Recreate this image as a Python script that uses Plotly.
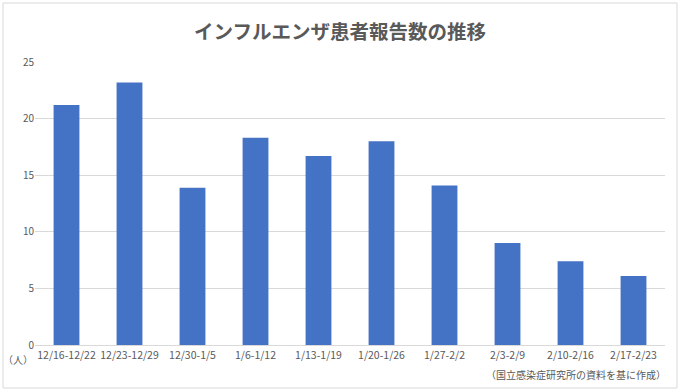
import plotly.graph_objects as go

categories = ["12/16-12/22", "12/23-12/29", "12/30-1/5", "1/6-1/12", "1/13-1/19",
              "1/20-1/26", "1/27-2/2", "2/3-2/9", "2/10-2/16", "2/17-2/23"]
values = [21.2, 23.2, 13.9, 18.3, 16.7, 18.0, 14.1, 9.0, 7.4, 6.1]
y_ticks = [0, 5, 10, 15, 20, 25]

title_text = "インフルエンザ患者報告数の推移"
unit_text = "（人）"
source_text = "（国立感染症研究所の資料を基に作成）"

W, H = 680, 391
L, R, T, B = 35, 15, 62, 46
pw, ph = W - L - R, H - T - B

font = "Noto Sans CJK JP"
gray = "#595959"

fig = go.Figure(go.Bar(x=categories, y=values, marker_color="#4472c4",
                       marker_line_width=0))

def px2paper_x(px):
    return (px - L) / pw

def px2paper_y(py):
    return (H - B - py) / ph

fig.update_layout(
    width=W, height=H,
    margin=dict(l=L, r=R, t=T, b=B),
    paper_bgcolor="white", plot_bgcolor="white",
    bargap=0.59,
    showlegend=False,
    font=dict(family=font, color=gray, size=10),
    title=dict(text=title_text, x=0.5, xanchor="center", y=1 - 32 / H,
               yanchor="middle", font=dict(family=font, size=19.5, color=gray, weight=600)),
    xaxis=dict(showgrid=False, showline=True, linecolor="#d9d9d9", linewidth=1,
               ticks="", tickfont=dict(size=10.5, color=gray), tickangle=0),
    yaxis=dict(range=[0, 25], tickvals=y_ticks, showgrid=True, gridcolor="#d9d9d9",
               zeroline=False, ticks="", tickfont=dict(size=10, color=gray)),
    shapes=[dict(type="rect", xref="paper", yref="paper",
                 x0=px2paper_x(3), x1=px2paper_x(677),
                 y0=px2paper_y(388), y1=px2paper_y(3),
                 line=dict(color="#d9d9d9", width=1), fillcolor="rgba(0,0,0,0)",
                 layer="below")],
    annotations=[
        dict(text=unit_text, xref="paper", yref="paper", x=px2paper_x(34),
             y=px2paper_y(359), showarrow=False, xanchor="right", yanchor="middle",
             borderpad=0, font=dict(size=10, color=gray)),
        dict(text=source_text, xref="paper", yref="paper", x=px2paper_x(668),
             y=px2paper_y(374), showarrow=False, xanchor="right", yanchor="middle",
             font=dict(size=10, color=gray)),
    ],
)

fig.write_html("out.html", config={"displayModeBar": False},
               post_script="document.body.style.margin='0';")
